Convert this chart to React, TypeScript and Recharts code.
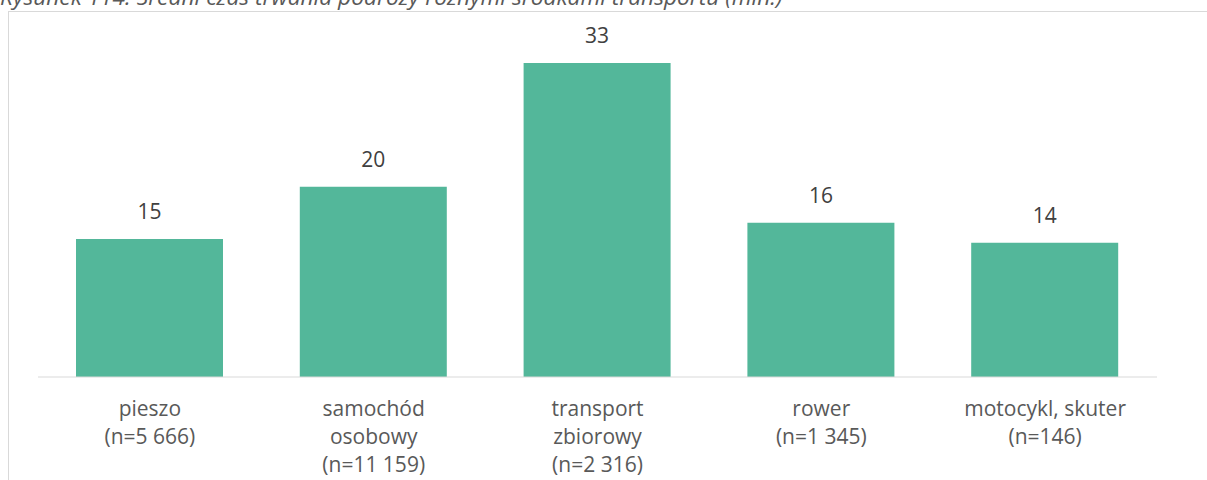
import React from "react";
import { BarChart, Bar, XAxis, YAxis, LabelList } from "recharts";

const categories = [
  "pieszo\n(n=5 666)",
  "samochód\nosobowy\n(n=11 159)",
  "transport\nzbiorowy\n(n=2 316)",
  "rower\n(n=1 345)",
  "motocykl, skuter\n(n=146)",
];
const durations = [14.5, 20.0, 33.0, 16.2, 14.1];
const valueLabels = ["15", "20", "33", "16", "14"];
const title =
  "Rysunek 114. Średni czas trwania podróży różnymi środkami transportu (min.)";

const data = categories.map((c, i) => ({
  category: c,
  value: durations[i],
  label: valueLabels[i],
}));

const FONT = "'Open Sans', sans-serif";

const CategoryTick = (props: any) => {
  const { x, y, payload } = props;
  const lines = String(payload.value).split("\n");
  return (
    <text
      x={x}
      y={y + 31}
      textAnchor="middle"
      fill="#595959"
      fontFamily={FONT}
      fontSize={21}
    >
      {lines.map((l: string, i: number) => (
        <tspan key={i} x={x} dy={i === 0 ? 0 : 28}>
          {l}
        </tspan>
      ))}
    </text>
  );
};

const ValueLabel = (props: any) => {
  const { x, y, width, index } = props;
  return (
    <text
      x={x + width / 2}
      y={y - 20}
      textAnchor="middle"
      fill="#404040"
      fontFamily={FONT}
      fontSize={21}
    >
      {valueLabels[index]}
    </text>
  );
};

export default function App() {
  return (
    <div
      style={{
        position: "fixed",
        left: 0,
        top: 0,
        width: 1207,
        height: 480,
        overflow: "hidden",
        background: "#ffffff",
      }}
    >
      <div
        style={{
          position: "absolute",
          left: 8,
          top: 11,
          width: 1300,
          height: 600,
          borderLeft: "1px solid #d9d9d9",
          borderTop: "1px solid #d9d9d9",
        }}
      />
      <div
        style={{
          position: "absolute",
          left: 0,
          top: -15,
          fontFamily: FONT,
          fontStyle: "italic",
          fontSize: 22.7,
          lineHeight: "24px",
          color: "#595959",
          whiteSpace: "nowrap",
        }}
      >
        {title}
      </div>
      <div style={{ position: "absolute", left: 0, top: 0 }}>
        <BarChart
          width={1207}
          height={480}
          data={data}
          margin={{ top: 44, right: 50, bottom: 0, left: 38 }}
        >
          <XAxis
            dataKey="category"
            interval={0}
            tickLine={false}
            axisLine={{ stroke: "#d9d9d9", strokeWidth: 1 }}
            tick={<CategoryTick />}
            height={103}
          />
          <YAxis hide domain={[0, 35]} />
          <Bar
            dataKey="value"
            fill="#53b79a"
            barSize={147}
            isAnimationActive={false}
          >
            <LabelList dataKey="label" content={<ValueLabel />} />
          </Bar>
        </BarChart>
      </div>
    </div>
  );
}
